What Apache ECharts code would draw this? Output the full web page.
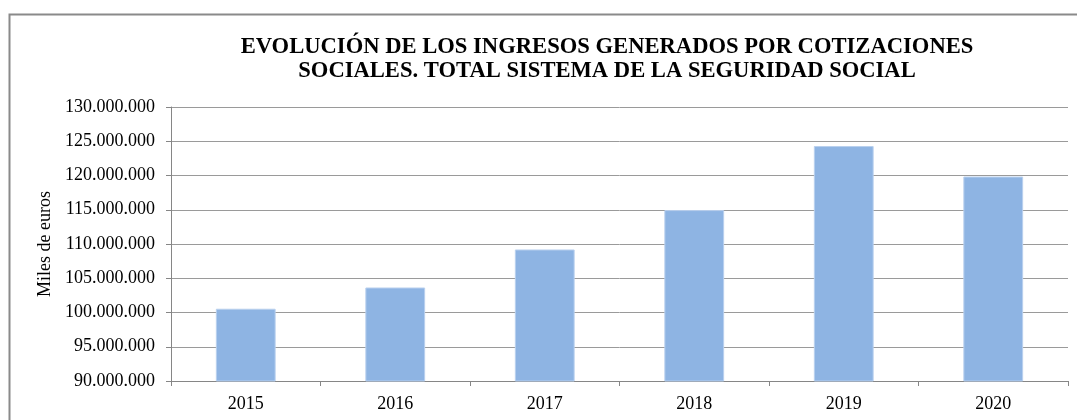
<!DOCTYPE html>
<html>
<head>
<meta charset="utf-8">
<script src="https://cdn.jsdelivr.net/npm/echarts@6/dist/echarts.min.js"></script>
<style>
  html, body { margin: 0; padding: 0; background: #fff; }
  #chart { width: 1077px; height: 420px; }
</style>
</head>
<body>
<div id="chart"></div>
<script>
// Ingresos por cotizaciones sociales (miles de euros)
const years = ['2015', '2016', '2017', '2018', '2019', '2020'];
const ingresos = [100550000, 103650000, 109200000, 114950000, 124300000, 119850000];
const yMin = 90000000;
const yMax = 130000000;
const yStep = 5000000;

const titleLines = [
  'EVOLUCIÓN DE LOS INGRESOS GENERADOS POR COTIZACIONES',
  'SOCIALES. TOTAL SISTEMA DE LA SEGURIDAD SOCIAL'
];
const yName = 'Miles de euros';

function fmt(v) {
  return String(Math.round(v)).replace(/\B(?=(\d{3})+(?!\d))/g, '.');
}

const serif = '"Liberation Serif", "Times New Roman", serif';
const chart = echarts.init(document.getElementById('chart'), null, { renderer: 'canvas' });

chart.setOption({
  animation: false,
  backgroundColor: '#ffffff',
  graphic: [{
    type: 'rect',
    silent: true,
    shape: { x: 9.5, y: 14.5, width: 1100, height: 500 },
    style: { fill: 'none', stroke: '#8a8a8a', lineWidth: 2 }
  }],
  title: {
    text: titleLines.join('\n'),
    left: 602,
    top: 30,
    textAlign: 'center',
    textStyle: {
      fontFamily: serif,
      fontWeight: 'bold',
      fontSize: 22.6,
      lineHeight: 24,
      color: '#000'
    }
  },
  grid: { left: 171, right: 9, top: 107, bottom: 39 },
  xAxis: {
    type: 'category',
    data: years,
    axisLine: { lineStyle: { color: '#868686', width: 1 } },
    axisTick: { show: true, length: 5, inside: false, lineStyle: { color: '#868686' } },
    axisLabel: { fontFamily: serif, fontSize: 18, color: '#000', margin: 14 }
  },
  yAxis: {
    type: 'value',
    min: yMin,
    max: yMax,
    interval: yStep,
    name: yName,
    nameLocation: 'middle',
    nameGap: 116,
    nameTextStyle: { fontFamily: serif, fontSize: 18, color: '#000' },
    axisLine: { show: true, lineStyle: { color: '#868686', width: 1 } },
    axisTick: { show: true, length: 5, lineStyle: { color: '#868686' } },
    axisLabel: { fontFamily: serif, fontSize: 18, color: '#000', margin: 16, formatter: fmt },
    splitLine: { lineStyle: { color: '#9a9a9a', width: 1 } }
  },
  series: [{
    type: 'bar',
    data: ingresos,
    barWidth: '40%',
    itemStyle: { color: '#8eb4e3', borderColor: '#b9d0ee', borderWidth: 1 }
  }]
});
</script>
</body>
</html>
